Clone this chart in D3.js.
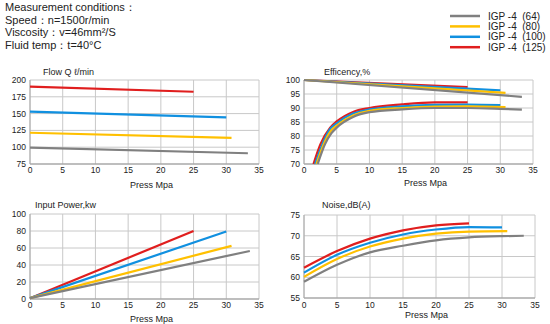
<!DOCTYPE html>
<html>
<head>
<meta charset="utf-8">
<script src="https://cdn.jsdelivr.net/npm/d3@7"></script>
<style>
  body { margin: 0; background: #fff; }
  svg text { font-family: "Liberation Sans", Arial, sans-serif; fill: #222; }
</style>
</head>
<body>
<div id="chart"></div>
<script>
// series (pump sizes)
var seriesNames = ["IGP -4  (64)", "IGP -4  (80)", "IGP -4  (100)", "IGP -4  (125)"];
var seriesColors = ["#808080", "#ffc000", "#1090e0", "#e01e1e"];

var conditions = ["Measurement conditions：", "Speed：n=1500r/min", "Viscosity：v=46mm²/S", "Fluid temp：t=40°C"];

var pressTicks = [0, 5, 10, 15, 20, 25, 30, 35];
var flowTicks = [75, 100, 125, 150, 175, 200];
var effTicks = [70, 75, 80, 85, 90, 95, 100];
var powerTicks = [0, 20, 40, 60, 80, 100];
var noiseTicks = [55, 60, 65, 70, 75];

// flow Q l/min  [press, value]
var flow64 = [[0, 99.5], [33.3, 91]];
var flow80 = [[0, 121.5], [30.8, 114]];
var flow100 = [[0, 153], [30, 144.5]];
var flow125 = [[0, 190], [25, 182.5]];

// volumetric efficiency %
var volEff64 = [[0, 100], [33.3, 94]];
var volEff80 = [[0, 100], [30.8, 95.4]];
var volEff100 = [[0, 100], [30, 96.3]];
var volEff125 = [[0, 100], [25, 97.5]];

// total efficiency %
var totEff64 = [[2.1, 70], [3.2, 77], [4.2, 81], [5, 83], [7.5, 86.8], [10, 88.5], [15, 89.5], [20, 90], [25, 90], [30, 89.7], [33.3, 89.4]];
var totEff80 = [[1.9, 70], [3, 77], [4, 81.5], [5, 83.7], [7.5, 87.3], [10, 89], [15, 90], [20, 90.5], [25, 90.6], [30.8, 90.3]];
var totEff100 = [[1.7, 70], [2.8, 77], [4, 82.5], [5, 84.5], [7.5, 88], [10, 89.5], [15, 90.6], [20, 91.1], [25, 91.2], [30, 91]];
var totEff125 = [[1.45, 70], [2.5, 77], [4, 83], [5, 85.2], [7.5, 88.6], [10, 90], [15, 91.3], [20, 92], [25, 92]];

// input power kw
var power64 = [[0, 1], [33.6, 56.5]];
var power80 = [[0, 1], [30.8, 62.5]];
var power100 = [[0, 1], [30, 79.5]];
var power125 = [[0, 1], [25, 80]];

// noise dB(A)
var noise64 = [[0, 58.9], [5, 63], [10, 66], [15, 67.6], [20, 68.9], [25, 69.6], [30, 69.9], [33.3, 70]];
var noise80 = [[0, 60.1], [5, 64.4], [10, 67.4], [15, 69.3], [20, 70.5], [25, 71], [30.8, 71.1]];
var noise100 = [[0, 61.1], [5, 65.4], [10, 68.3], [15, 70.3], [20, 71.5], [25, 72.1], [30, 72]];
var noise125 = [[0, 62.3], [5, 66.3], [10, 69.3], [15, 71.3], [20, 72.5], [25, 73]];

var svg = d3.select("#chart").append("svg")
    .attr("width", 550)
    .attr("height", 324);

// header text
svg.selectAll(".cond").data(conditions).enter().append("text")
    .attr("class", "cond")
    .attr("x", 5)
    .attr("y", function(d, i) { return 11 + i * 12.5; })
    .style("font-size", "11px")
    .text(function(d) { return d; });

// legend
var legend = svg.selectAll(".legend").data(seriesNames).enter().append("g")
    .attr("class", "legend")
    .attr("transform", function(d, i) { return "translate(450," + (16 + i * 10.4) + ")"; });
legend.append("line")
    .attr("x1", 0).attr("x2", 30)
    .attr("stroke", function(d, i) { return seriesColors[i]; })
    .attr("stroke-width", 2.5);
legend.append("text")
    .attr("x", 38).attr("y", 3.5)
    .style("font-size", "10px")
    .style("white-space", "pre")
    .text(function(d) { return d; });

function drawPanel(p) {
  var x = d3.scaleLinear().domain([0, 35]).range([p.left, p.right]);
  var y = d3.scaleLinear().domain([p.yTicks[0], p.yTicks[p.yTicks.length - 1]]).range([p.bottom, p.top]);
  var g = svg.append("g");

  // grid
  g.selectAll(".vg").data(pressTicks).enter().append("line")
    .attr("x1", function(d) { return x(d); }).attr("x2", function(d) { return x(d); })
    .attr("y1", p.top).attr("y2", p.bottom)
    .attr("stroke", "#c8c8c8").attr("stroke-width", 1);
  g.selectAll(".hg").data(p.yTicks).enter().append("line")
    .attr("x1", p.left).attr("x2", p.right)
    .attr("y1", function(d) { return y(d); }).attr("y2", function(d) { return y(d); })
    .attr("stroke", "#c8c8c8").attr("stroke-width", 1);
  g.append("line")
    .attr("x1", p.left).attr("x2", p.right).attr("y1", p.bottom).attr("y2", p.bottom)
    .attr("stroke", "#999").attr("stroke-width", 1);
  g.append("line")
    .attr("x1", p.left).attr("x2", p.left).attr("y1", p.top).attr("y2", p.bottom)
    .attr("stroke", "#aaa").attr("stroke-width", 1);

  // tick labels
  g.selectAll(".xt").data(pressTicks).enter().append("text")
    .attr("x", function(d) { return x(d); })
    .attr("y", p.bottom + p.xTickGap)
    .attr("text-anchor", "middle")
    .style("font-size", "8.5px")
    .text(function(d) { return d; });
  g.selectAll(".yt").data(p.yTicks).enter().append("text")
    .attr("x", p.left - 4)
    .attr("y", function(d) { return y(d) + 3; })
    .attr("text-anchor", "end")
    .style("font-size", "8.5px")
    .text(function(d) { return d; });

  // titles
  g.append("text")
    .attr("x", p.titleX).attr("y", p.titleY)
    .style("font-size", "9px")
    .text(p.title);
  g.append("text")
    .attr("x", (p.left + p.right) / 2 + 7).attr("y", p.bottom + p.xLabelGap)
    .attr("text-anchor", "middle")
    .style("font-size", "9px")
    .text("Press Mpa");

  var line = d3.line()
    .x(function(d) { return x(d[0]); })
    .y(function(d) { return y(d[1]); })
    .curve(d3.curveMonotoneX);

  var lines = g.append("g");
  p.series.forEach(function(set) {
    for (var i = 3; i >= 0; i--) {
      lines.append("path")
        .datum(set[i])
        .attr("d", line)
        .attr("fill", "none")
        .attr("stroke", seriesColors[i])
        .attr("stroke-width", 2.2);
    }
  });
}

drawPanel({
  left: 30, right: 259, top: 80, bottom: 164,
  yTicks: flowTicks, title: "Flow Q ℓ/min", titleX: 43, titleY: 75,
  xTickGap: 9, xLabelGap: 24,
  series: [[flow64, flow80, flow100, flow125]]
});
drawPanel({
  left: 304, right: 533, top: 80, bottom: 164,
  yTicks: effTicks, title: "Efficency,%", titleX: 324, titleY: 75,
  xTickGap: 9, xLabelGap: 22,
  series: [[volEff64, volEff80, volEff100, volEff125], [totEff64, totEff80, totEff100, totEff125]]
});
drawPanel({
  left: 30, right: 259, top: 214, bottom: 299,
  yTicks: powerTicks, title: "Input Power,kw", titleX: 35, titleY: 208,
  xTickGap: 9, xLabelGap: 23,
  series: [[power64, power80, power100, power125]]
});
drawPanel({
  left: 304, right: 535, top: 215, bottom: 298,
  yTicks: noiseTicks, title: "Noise,dB(A)", titleX: 322, titleY: 208,
  xTickGap: 10, xLabelGap: 20,
  series: [[noise64, noise80, noise100, noise125]]
});
</script>
</body>
</html>
